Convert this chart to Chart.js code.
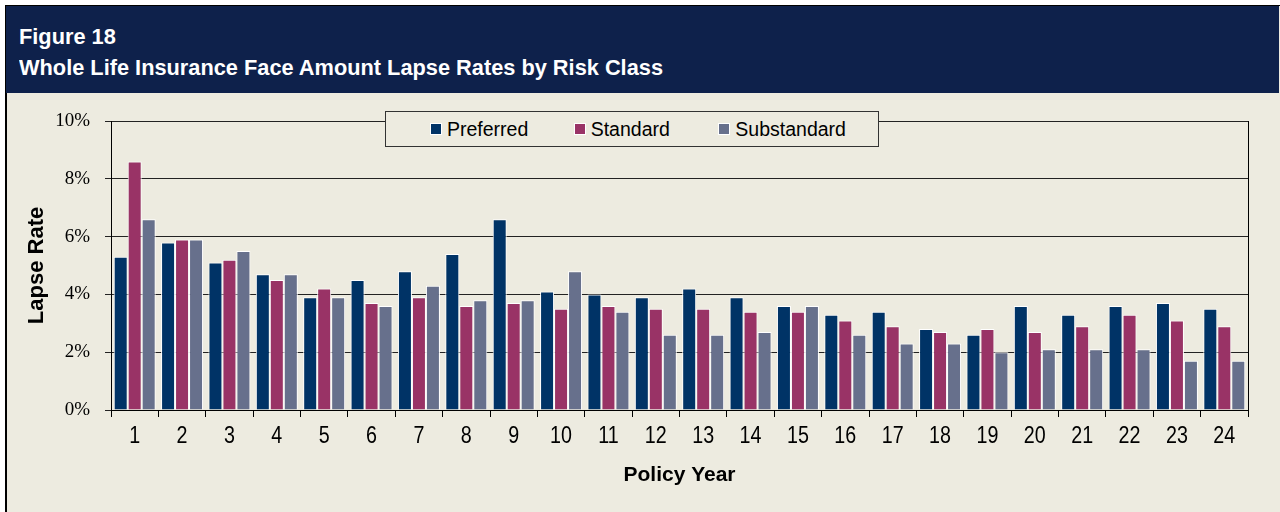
<!DOCTYPE html>
<html>
<head>
<meta charset="utf-8">
<script src="https://cdn.jsdelivr.net/npm/chart.js@4"></script>
<style>
  body { margin: 0; background: #fff; width: 1280px; height: 512px; overflow: hidden; position: relative; }
  #frame { position: absolute; left: 5px; top: 5px; width: 1273px; height: 520px; background: #edebe0; border: 1px solid #000; border-left-width: 2px; }
  #header { position: absolute; left: 6px; top: 6px; width: 1273px; height: 87px; background: #0e214b; }
  .htitle { position: absolute; left: 13px; color: #fff; font: bold 22px "Liberation Sans", Arial, sans-serif; line-height: 22px; white-space: nowrap; transform-origin: left top; }
  #chart { position: absolute; left: 0; top: 0; }
  #legend { position: absolute; left: 385px; top: 111px; width: 494px; height: 36px; border: 1px solid #333; background: #edebe0; display: flex; align-items: center; padding-left: 44px; box-sizing: border-box; }
  #legend .item { display: flex; align-items: center; font: 19.5px "Liberation Sans", Arial, sans-serif; color: #000; }
  #legend .mark { width: 10px; height: 10px; border: 1px solid #fff; margin-right: 5px; }
</style>
</head>
<body>
<div id="frame"></div>
<div id="header">
  <div class="htitle" style="top:20px">Figure 18</div>
  <div class="htitle" style="top:51px">Whole Life Insurance Face Amount Lapse Rates by Risk Class</div>
</div>
<canvas id="chart" width="1280" height="512"></canvas>
<div id="legend"></div>
<script>
// Lapse rates (%) by policy year
const years = ['1','2','3','4','5','6','7','8','9','10','11','12','13','14','15','16','17','18','19','20','21','22','23','24'];
const preferred   = [5.3, 5.8, 5.1, 4.7, 3.9, 4.5, 4.8, 5.4, 6.6, 4.1, 4.0, 3.9, 4.2, 3.9, 3.6, 3.3, 3.4, 2.8, 2.6, 3.6, 3.3, 3.6, 3.7, 3.5];
const standard    = [8.6, 5.9, 5.2, 4.5, 4.2, 3.7, 3.9, 3.6, 3.7, 3.5, 3.6, 3.5, 3.5, 3.4, 3.4, 3.1, 2.9, 2.7, 2.8, 2.7, 2.9, 3.3, 3.1, 2.9];
const substandard = [6.6, 5.9, 5.5, 4.7, 3.9, 3.6, 4.3, 3.8, 3.8, 4.8, 3.4, 2.6, 2.6, 2.7, 3.6, 2.6, 2.3, 2.3, 2.0, 2.1, 2.1, 2.1, 1.7, 1.7];
const seriesNames = ['Preferred', 'Standard', 'Substandard'];
const seriesColors = ['#003366', '#993366', '#67708c'];
const yTicks = [0, 2, 4, 6, 8, 10];

// squeeze header text to the narrower face used in the original
const titles = document.querySelectorAll('.htitle');
const sx = 644 / titles[1].getBoundingClientRect().width;
titles.forEach(t => t.style.transform = `scaleX(${sx})`);

const extras = {
  id: 'extras',
  afterDraw(chart) {
    const { ctx, chartArea: a } = chart;
    ctx.save();
    // right edge of the plot frame
    ctx.strokeStyle = '#000';
    ctx.lineWidth = 1;
    ctx.beginPath();
    ctx.moveTo(Math.round(a.right) + 0.5, a.top);
    ctx.lineTo(Math.round(a.right) + 0.5, a.bottom);
    ctx.stroke();
    // condensed category labels (no narrow face installed)
    const xs = chart.scales.x;
    ctx.fillStyle = '#000';
    ctx.font = '24px "Liberation Sans", Arial';
    ctx.textAlign = 'center';
    ctx.textBaseline = 'top';
    xs.ticks.forEach((t, i) => {
      ctx.save();
      ctx.translate(xs.getPixelForTick(i), a.bottom + 14);
      ctx.scale(0.82, 1);
      ctx.fillText(xs.getLabelForValue(t.value), 0, 0);
      ctx.restore();
    });
    ctx.restore();
  }
};

const chart = new Chart(document.getElementById('chart'), {
  type: 'bar',
  data: {
    labels: years,
    datasets: [preferred, standard, substandard].map((d, i) => ({
      label: seriesNames[i],
      data: d,
      backgroundColor: seriesColors[i],
      borderColor: '#ffffff',
      borderWidth: 1,
      borderSkipped: 'bottom',
      categoryPercentage: 0.886,
      barPercentage: 1.0
    }))
  },
  options: {
    responsive: false,
    animation: false,
    devicePixelRatio: 1,
    layout: { padding: { top: 121, right: 32, left: 20, bottom: 20 } },
    plugins: { legend: { display: false }, tooltip: { enabled: false } },
    scales: {
      x: {
        grid: { offset: true, drawOnChartArea: false, tickLength: 7, color: '#000' },
        border: { color: '#000', width: 1 },
        ticks: { color: 'rgba(0,0,0,0)', padding: 7, maxRotation: 0, font: { family: '"Liberation Sans", Arial', size: 24 } },
        title: { display: true, text: 'Policy Year', color: '#000', font: { family: '"Liberation Sans", Arial', size: 21, weight: 'bold' } },
        afterFit: s => { s.height = 82; }
      },
      y: {
        min: 0,
        max: 10,
        afterBuildTicks: s => { s.ticks = yTicks.map(v => ({ value: v })); },
        grid: { color: '#222', tickLength: 6, lineWidth: 1 },
        border: { color: '#000', width: 1 },
        ticks: { color: '#000', padding: 15, callback: v => v + '%', font: { family: '"Liberation Serif", "Times New Roman", serif', size: 19 } },
        title: { display: true, text: 'Lapse Rate', color: '#000', font: { family: '"Liberation Sans", Arial', size: 22, weight: 'bold' } },
        afterFit: s => { s.width = 91; }
      }
    }
  },
  plugins: [extras]
});

// legend built from the dataset names/colours
const legend = document.getElementById('legend');
const itemWidths = [144, 145, 160];
chart.data.datasets.forEach((ds, i) => {
  const item = document.createElement('div');
  item.className = 'item';
  item.style.width = itemWidths[i] + 'px';
  item.innerHTML = `<span class="mark" style="background:${ds.backgroundColor}"></span><span>${ds.label}</span>`;
  legend.appendChild(item);
});
</script>
</body>
</html>
